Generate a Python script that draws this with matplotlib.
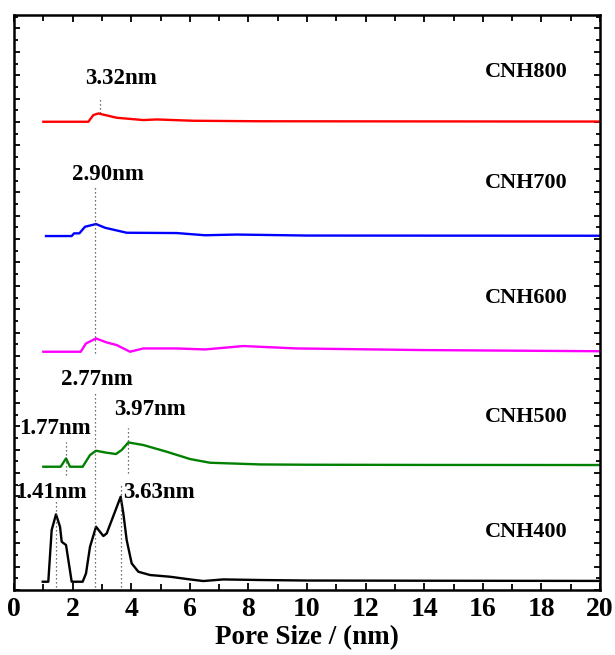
import matplotlib.pyplot as plt
from matplotlib.ticker import MultipleLocator, NullFormatter

# pore size distributions, heights above each baseline (arbitrary units)
x400 = [0.98, 1.17, 1.285, 1.433, 1.57, 1.627, 1.775, 1.854, 1.968, 2.343, 2.457, 2.594,
        2.799, 3.049, 3.163, 3.64, 3.731, 3.845, 4.016, 4.243, 4.642, 5.324, 6.007, 6.46,
        7.14, 8.4, 10.0, 14.0, 20.0]
y400 = [0, 0, 51.7, 67.4, 55, 40, 36.7, 21.7, 0, 0, 8.3, 35,
        55, 45.7, 48.3, 85, 68.3, 41.7, 18.3, 10, 6.7, 5, 2.3, 0.7,
        2.3, 1.7, 1.2, 1.0, 0.8]

x500 = [1.0, 1.593, 1.775, 1.911, 2.343, 2.594, 2.799, 3.163, 3.481, 3.674, 3.902, 4.414,
        5.21, 6.007, 6.689, 8.4, 10.0, 14.0, 20.0]
y500 = [0, 0, 8.3, 0, 0, 11.7, 16, 14, 12.7, 16.7, 24.3, 21.7,
        15, 7.7, 4, 2.3, 2.0, 1.8, 1.7]

x600 = [1.0, 2.275, 2.457, 2.799, 3.163, 3.504, 3.959, 4.414, 5.552, 6.519, 7.83, 9.65,
        13.86, 20.0]
y600 = [0, 0, 8.3, 13.3, 9.3, 6.7, 0, 3.3, 3.3, 2.3, 5.7, 3.3,
        1.7, 0.5]

x700 = [1.092, 1.968, 2.048, 2.23, 2.423, 2.799, 3.106, 3.845, 5.552, 6.519, 7.6, 10.0,
        20.0]
y700 = [0, 0, 2.7, 2.7, 9.3, 12, 8.3, 3.3, 3.0, 0.8, 1.5, 0.5,
        0.3]

x800 = [1.0, 2.537, 2.708, 2.878, 3.504, 4.414, 4.869, 6.12, 8.4, 20.0]
y800 = [0, 0, 6.7, 8.3, 4, 1.7, 2.3, 1, 0.5, 0.2]

samples = ['CNH400', 'CNH500', 'CNH600', 'CNH700', 'CNH800']
offsets = [8.3, 123.3, 238.3, 354, 468.3]
colors = ['black', 'green', 'magenta', 'blue', 'red']
label_y = [58, 173, 292, 407, 518]

# peak markers: x, y bottom, y top, text, text x, text y
peak_x = [1.433, 3.65, 1.775, 3.90, 2.775, 2.775, 2.93]
peak_y0 = [3, 3, 115, 117, 3, 237, 477]
peak_y1 = [90, 107, 148, 162, 197, 403, 493]
peak_txt = ['1.41nm', '3.63nm', '1.77nm', '3.97nm', '2.77nm', '2.90nm', '3.32nm']
peak_tx = [1.27, 4.95, 1.40, 4.64, 2.83, 3.22, 3.66]
peak_ty = [98, 98, 162, 181, 211, 416, 512]

plt.rcParams['font.family'] = ['Liberation Serif', 'DejaVu Serif']
plt.rcParams['font.weight'] = 'bold'

fig = plt.figure(figsize=(6.15, 6.55), dpi=100)
ax = fig.add_axes([0.0228, 0.0992, 0.9528, 0.8778])

xs = [x400, x500, x600, x700, x800]
ys = [y400, y500, y600, y700, y800]
for xv, yv, off, c, name, ly in zip(xs, ys, offsets, colors, samples, label_y):
    ax.plot(xv, [v + off for v in yv], color=c, lw=1.7)
    ax.text(17.47, ly, name, ha='center', va='center', fontsize=16, fontweight='bold')

for px, a, b, t, tx, ty in zip(peak_x, peak_y0, peak_y1, peak_txt, peak_tx, peak_ty):
    ax.plot([px, px], [a, b], color='#444444', ls=(0, (1, 2.2)), lw=0.9)
    ax.text(tx, ty, t, ha='center', va='center', fontsize=16.5, fontweight='bold')

ax.set_xlim(0, 20)
ax.set_ylim(0, 575)
ax.xaxis.set_major_locator(MultipleLocator(2))
ax.xaxis.set_minor_locator(MultipleLocator(1))
ax.yaxis.set_major_locator(MultipleLocator(23.4))
ax.yaxis.set_minor_locator(MultipleLocator(11.7))
ax.yaxis.set_major_formatter(NullFormatter())
ax.tick_params(which='both', direction='in', top=True, right=True, width=1.3)
ax.tick_params(which='major', length=5, labelsize=20, pad=5)
ax.tick_params(which='minor', length=4)
ax.tick_params(axis='y', which='major', length=4)
ax.tick_params(axis='y', which='minor', length=3)
for s in ax.spines.values():
    s.set_linewidth(1.8)

ax.set_xlabel('Pore Size / (nm)', fontsize=19.5, fontweight='bold', labelpad=2)

fig.savefig('out.png', dpi=100)
